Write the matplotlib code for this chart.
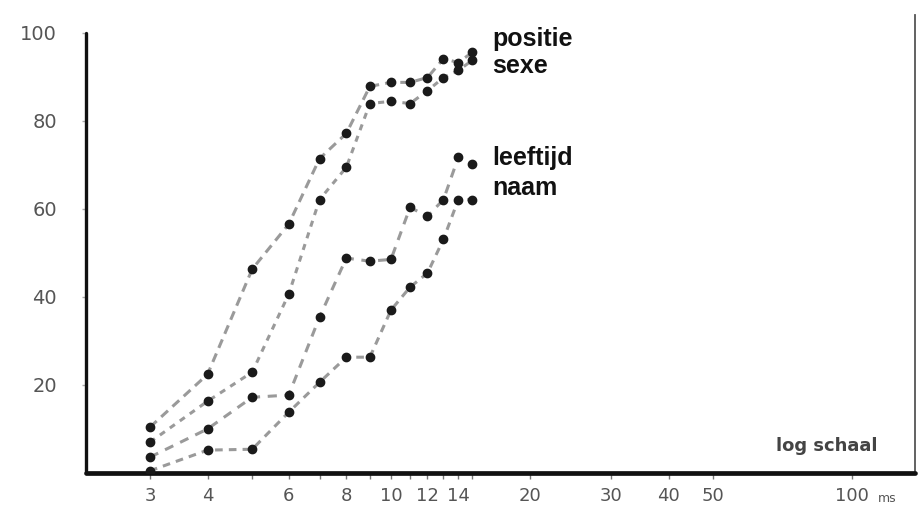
import numpy as np
import matplotlib.pyplot as plt
from matplotlib.ticker import FixedLocator, NullFormatter

# presentation time (ms), log scale
duration = [3, 4, 5, 6, 7, 8, 9, 10, 11, 12, 13, 14, 15]

# percentage correct per attribute
positie = [10.4, 22.4, 46.3, 56.5, 71.4, 77.1, 87.8, 88.7, 88.7, 89.8, 94.1, 93.2, 95.5]
sexe = [7.0, 16.3, 22.9, 40.6, 62.1, 69.4, 83.9, 84.4, 83.9, 86.8, 89.8, 91.4, 93.7]
leeftijd = [3.6, 10.0, 17.2, 17.7, 35.4, 48.8, 48.1, 48.5, 60.3, 58.3, 62.1, 71.7, 70.1]
naam = [0.5, 5.2, 5.4, 13.8, 20.6, 26.3, 26.3, 37.0, 42.2, 45.4, 53.1, 62.1, 62.1]

x_ticks = [3, 4, 6, 8, 10, 12, 14, 20, 30, 40, 50, 100]
x_minor = [5, 7, 9, 11, 13, 15]
y_ticks = [20, 40, 60, 80, 100]

fig = plt.figure(figsize=(9.18, 5.19), dpi=100)
ax = fig.add_axes([0.0937, 0.0886, 0.903, 0.8825])

series = [positie, sexe, leeftijd, naam]
dashes = [(0, (3, 2)), (0, (2, 2)), (0, (3, 2.5)), (0, (2.5, 2))]
for vals, ls in zip(series, dashes):
    ax.plot(duration, vals, color='#9a9a9a', lw=2.2, linestyle=ls, zorder=2)
    ax.plot(duration, vals, 'o', color='#1a1a1a', ms=6, mec='#1a1a1a', zorder=3)

ax.set_xscale('log')
ax.set_xlim(2.18, 137)
ax.set_ylim(0, 104)

ax.xaxis.set_major_locator(FixedLocator(x_ticks))
ax.xaxis.set_minor_locator(FixedLocator(x_minor))
ax.xaxis.set_minor_formatter(NullFormatter())
ax.set_xticklabels([str(t) for t in x_ticks])
ax.set_yticks(y_ticks)
ax.set_yticklabels([str(t) for t in y_ticks])

ax.tick_params(axis='x', which='both', direction='out', length=4, width=1,
               color='#777', pad=6, labelsize=13, labelcolor='#555')
ax.tick_params(axis='y', direction='out', length=3, width=1, color='#aaa',
               pad=18, labelsize=14, labelcolor='#555')

ax.spines['top'].set_visible(False)
ax.spines['left'].set_linewidth(2.4)
ax.spines['left'].set_bounds(0, 100)
ax.spines['bottom'].set_linewidth(3.4)
ax.spines['right'].set_linewidth(1.3)
ax.spines['right'].set_color('#555')
for s in ['left', 'bottom']:
    ax.spines[s].set_color('#111')
    ax.spines[s].set_capstyle('round')

lab = dict(fontfamily='Liberation Sans', fontweight='bold', fontsize=18,
           color='#111', va='baseline', ha='left')
ax.text(16.6, 97.0, 'positie', **lab)
ax.text(16.6, 90.9, 'sexe', **lab)
ax.text(16.6, 70.0, 'leeftijd', **lab)
ax.text(16.6, 63.2, 'naam', **lab)

ax.text(0.955, 0.04, 'log schaal', transform=ax.transAxes, ha='right', va='bottom',
        fontsize=13, fontweight='bold', color='#444')
ax.text(114, -4.3, 'ms', ha='left', va='top', fontsize=9, color='#555')

fig.savefig('out.png', dpi=100)
